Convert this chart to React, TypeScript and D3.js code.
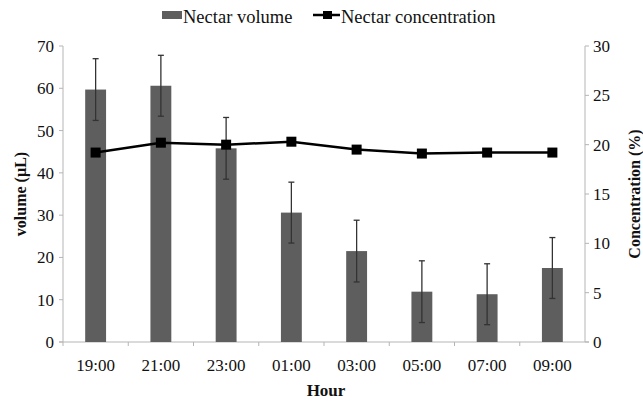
import * as d3 from "d3";

const hours = ["19:00", "21:00", "23:00", "01:00", "03:00", "05:00", "07:00", "09:00"];
const volume = [59.7, 60.6, 45.8, 30.6, 21.5, 11.9, 11.3, 17.5];
const volumeErr = [7.3, 7.2, 7.3, 7.2, 7.3, 7.3, 7.2, 7.2];
const concentration = [19.2, 20.2, 20.0, 20.3, 19.5, 19.1, 19.2, 19.2];
const volumeTicks = [0, 10, 20, 30, 40, 50, 60, 70];
const concTicks = [0, 5, 10, 15, 20, 25, 30];

export default function App() {
  const width = 643;
  const height = 403;
  const margin = { top: 46, right: 58, bottom: 61, left: 63 };
  const font = "'Liberation Serif', 'Times New Roman', serif";
  const axisColor = "#b5b5b5";

  const x = d3.scaleBand()
    .domain(hours)
    .range([margin.left, width - margin.right])
    .paddingInner(0.68)
    .paddingOuter(0.34);
  const yVol = d3.scaleLinear().domain([0, 70]).range([height - margin.bottom, margin.top]);
  const yConc = d3.scaleLinear().domain([0, 30]).range([height - margin.bottom, margin.top]);

  const line = d3.line<number>()
    .x((_, i) => x(hours[i])! + x.bandwidth() / 2)
    .y(d => yConc(d));

  const step = x.step();
  const x0 = margin.left;
  const x1 = width - margin.right;
  const y0 = yVol(0);

  return (
    <svg width={width} height={height} style={{ position: "absolute", left: 0, top: 0, background: "#fff" }}>
      {/* axes */}
      <line x1={x0} x2={x0} y1={yVol(70)} y2={y0} stroke={axisColor} />
      <line x1={x1} x2={x1} y1={yConc(30)} y2={y0} stroke={axisColor} />
      <line x1={x0 - 4} x2={x1 + 4} y1={y0} y2={y0} stroke={axisColor} />
      {volumeTicks.map(t => (
        <g key={"v" + t}>
          <line x1={x0 - 4} x2={x0} y1={yVol(t)} y2={yVol(t)} stroke={axisColor} />
          <text x={x0 - 9} y={yVol(t)} dy="0.35em" textAnchor="end" fontFamily={font} fontSize={17} fill="#111">{t}</text>
        </g>
      ))}
      {concTicks.map(t => (
        <g key={"c" + t}>
          <line x1={x1} x2={x1 + 4} y1={yConc(t)} y2={yConc(t)} stroke={axisColor} />
          <text x={x1 + 8} y={yConc(t)} dy="0.35em" textAnchor="start" fontFamily={font} fontSize={17} fill="#111">{t}</text>
        </g>
      ))}
      {hours.map((h, i) => (
        <line key={"xt" + h} x1={x0 + step * i} x2={x0 + step * i} y1={y0} y2={y0 + 4} stroke={axisColor} />
      ))}
      {hours.map(h => (
        <text key={"xl" + h} x={x(h)! + x.bandwidth() / 2} y={y0 + 23} dy="0.35em" textAnchor="middle" fontFamily={font} fontSize={17} fill="#111">{h}</text>
      ))}

      {/* bars */}
      {volume.map((v, i) => (
        <rect key={"b" + i} x={x(hours[i])} y={yVol(v)} width={x.bandwidth()} height={y0 - yVol(v)} fill="#5e5e5e" />
      ))}
      {/* error bars */}
      {volume.map((v, i) => {
        const cx = x(hours[i])! + x.bandwidth() / 2;
        const hi = yVol(v + volumeErr[i]);
        const lo = yVol(v - volumeErr[i]);
        return (
          <g key={"e" + i} stroke="#333" strokeWidth={1.3}>
            <line x1={cx} x2={cx} y1={hi} y2={lo} />
            <line x1={cx - 3} x2={cx + 3} y1={hi} y2={hi} />
            <line x1={cx - 3} x2={cx + 3} y1={lo} y2={lo} />
          </g>
        );
      })}

      {/* concentration line */}
      <path d={line(concentration)!} fill="none" stroke="#000" strokeWidth={2.5} />
      {concentration.map((c, i) => (
        <rect key={"m" + i} x={x(hours[i])! + x.bandwidth() / 2 - 5} y={yConc(c) - 5} width={10} height={10} fill="#000" />
      ))}

      {/* axis titles */}
      <text transform={`translate(20, ${(yVol(70) + y0) / 2}) rotate(-90)`} textAnchor="middle" dy="0.35em" fontFamily={font} fontSize={16} fontWeight="bold" fill="#111">volume (µL)</text>
      <text transform={`translate(634, ${(yVol(70) + y0) / 2}) rotate(-90)`} textAnchor="middle" dy="0.35em" fontFamily={font} fontSize={16} fontWeight="bold" fill="#111">Concentration (%)</text>
      <text x={(x0 + x1) / 2 + 2} y={390} dy="0.35em" textAnchor="middle" fontFamily={font} fontSize={17} fontWeight="bold" fill="#111">Hour</text>

      {/* legend */}
      <rect x={162} y={11} width={20} height={8} fill="#5e5e5e" />
      <text x={183} y={17} dy="0.35em" fontFamily={font} fontSize={18.5} fill="#111">Nectar volume</text>
      <line x1={313} x2={340} y1={15} y2={15} stroke="#000" strokeWidth={2.5} />
      <rect x={323} y={11} width={9} height={8} fill="#000" />
      <text x={341} y={17} dy="0.35em" fontFamily={font} fontSize={18.5} fill="#111">Nectar concentration</text>
    </svg>
  );
}
